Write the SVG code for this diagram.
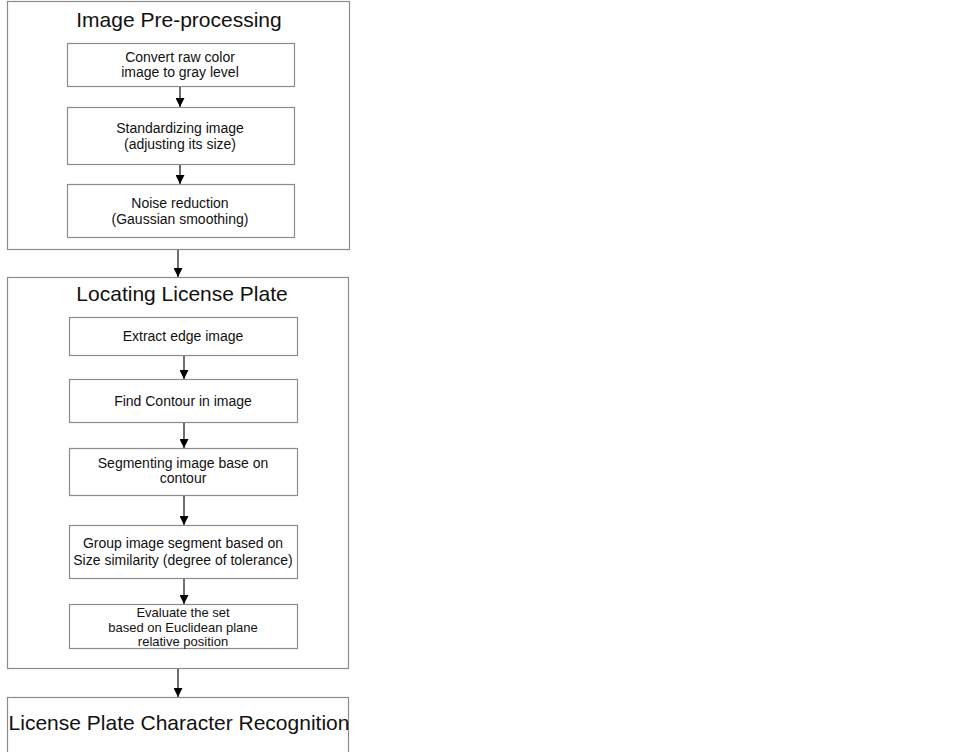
<svg xmlns="http://www.w3.org/2000/svg" width="975" height="752" viewBox="0 0 975 752">
<defs>
<marker id="ah" viewBox="0 0 10 10" refX="10" refY="5" markerWidth="10" markerHeight="9" markerUnits="userSpaceOnUse" orient="auto">
<path d="M0,0 L10,5 L0,10 Z" fill="#000"/>
</marker>
</defs>
<style>
.outer{fill:#fff;stroke:#8c8c8c;stroke-width:1.2}
.box{fill:#fff;stroke:#8c8c8c;stroke-width:1.2}
.title{font-family:"Liberation Sans",Arial,sans-serif;font-size:21px;fill:#111;text-anchor:middle}
.t{font-family:"Liberation Sans",Arial,sans-serif;font-size:14px;fill:#111;text-anchor:middle}
.ts{font-family:"Liberation Sans",Arial,sans-serif;font-size:13px;fill:#111;text-anchor:middle}
.c{stroke:#222;stroke-width:1.3;fill:none;marker-end:url(#ah)}
</style>
<rect width="975" height="752" fill="#fff"/>
<g id="stage1">
<rect class="outer" x="7.5" y="1.5" width="342" height="248"/>
<text class="title" x="179" y="27">Image Pre-processing</text>
</g>
<g id="n1">
<rect class="box" x="67.5" y="43.5" width="227" height="43"/>
<text class="t" x="180" y="62">Convert raw color</text>
<text class="t" x="180" y="77">image to gray level</text>
</g>
<g id="n2">
<rect class="box" x="67.5" y="107.5" width="227" height="57"/>
<text class="t" x="180" y="133">Standardizing image</text>
<text class="t" x="180" y="149">(adjusting its size)</text>
</g>
<g id="n3">
<rect class="box" x="67.5" y="184.5" width="227" height="53"/>
<text class="t" x="180" y="208">Noise reduction</text>
<text class="t" x="180" y="224">(Gaussian smoothing)</text>
</g>
<g id="stage2">
<rect class="outer" x="7.5" y="277.5" width="341" height="391"/>
<text class="title" x="182" y="301">Locating License Plate</text>
</g>
<g id="n4">
<rect class="box" x="69.5" y="317.5" width="228" height="38"/>
<text class="t" x="183" y="341">Extract edge image</text>
</g>
<g id="n5">
<rect class="box" x="69.5" y="379.5" width="228" height="43"/>
<text class="t" x="183" y="406">Find Contour in image</text>
</g>
<g id="n6">
<rect class="box" x="69.5" y="448.5" width="228" height="47"/>
<text class="t" x="183" y="468">Segmenting image base on</text>
<text class="t" x="183" y="483">contour</text>
</g>
<g id="n7">
<rect class="box" x="69.5" y="525.5" width="228" height="53"/>
<text class="t" x="183" y="548">Group image segment based on</text>
<text class="t" x="183" y="565">Size similarity (degree of tolerance)</text>
</g>
<g id="n8">
<rect class="box" x="69.5" y="604.5" width="228" height="44"/>
<text class="ts" x="183" y="616.5">Evaluate the set</text>
<text class="ts" x="183" y="631.5">based on Euclidean plane</text>
<text class="ts" x="183" y="646">relative position</text>
</g>
<g id="stage3">
<rect class="outer" x="7.5" y="697.5" width="341" height="56"/>
<text class="title" x="179" y="730">License Plate Character Recognition</text>
</g>
<g id="connectors">
<line class="c" x1="180" y1="87" x2="180" y2="107"/>
<line class="c" x1="180" y1="165" x2="180" y2="184"/>
<line class="c" x1="178" y1="250" x2="178" y2="277"/>
<line class="c" x1="184" y1="356" x2="184" y2="379"/>
<line class="c" x1="184" y1="423" x2="184" y2="448"/>
<line class="c" x1="184" y1="496" x2="184" y2="525"/>
<line class="c" x1="184" y1="579" x2="184" y2="604"/>
<line class="c" x1="178" y1="669" x2="178" y2="697"/>
</g>
</svg>
